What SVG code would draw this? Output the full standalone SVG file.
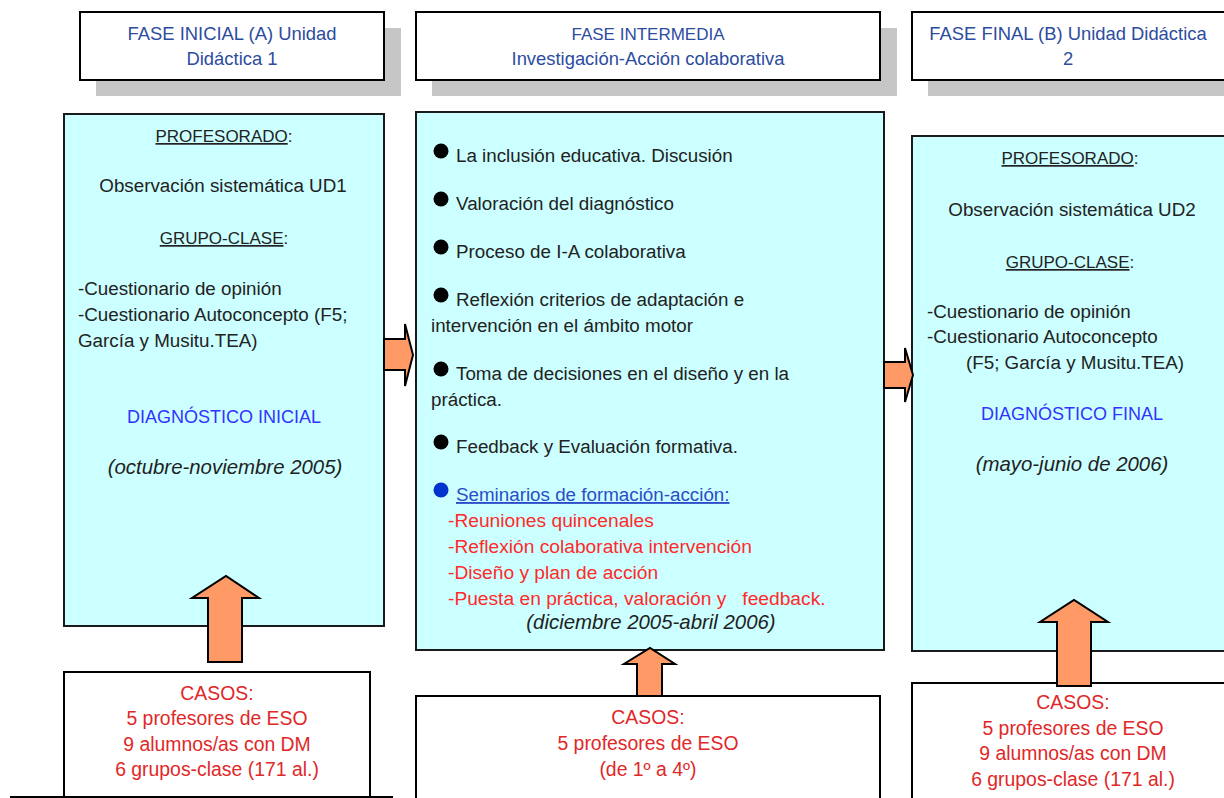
<svg xmlns="http://www.w3.org/2000/svg" width="1224" height="798" viewBox="0 0 1224 798">
<style>
text{font-family:"Liberation Sans",Arial,sans-serif;font-size:18.8px;fill:#222}
.hd{fill:#2c4ca0;text-anchor:middle;font-size:18.4px}
.up{font-size:17px}
.c{text-anchor:middle}
.dg{fill:#3333ff;text-anchor:middle;font-size:18px}
.it{font-style:italic;text-anchor:middle;font-size:20.4px}
.red{fill:#ff2a2a;font-size:19.2px}
.cs{fill:#e02828;text-anchor:middle;font-size:19.4px}
.box{fill:#ffffff;stroke:#000;stroke-width:2}
.main{fill:#ccffff;stroke:#1a1a1a;stroke-width:2}
.sh{fill:#c6c6c6}
.arr{fill:#ff9966;stroke:#000;stroke-width:2;stroke-linejoin:miter}
</style>
<rect width="1224" height="798" fill="#ffffff"/>
<g id="header-inicial">
<rect class="sh" x="96" y="28" width="305" height="68"/>
<rect class="box" x="80" y="12" width="304" height="68"/>
<text class="hd" x="232" y="40">FASE INICIAL (A) Unidad</text>
<text class="hd" x="232" y="65">Didáctica 1</text>
</g>
<g id="header-intermedia">
<rect class="sh" x="432" y="28" width="465" height="68"/>
<rect class="box" x="416" y="12" width="464" height="68"/>
<text class="hd up" x="648" y="40">FASE INTERMEDIA</text>
<text class="hd" x="648" y="65">Investigación-Acción colaborativa</text>
</g>
<g id="header-final">
<rect class="sh" x="928" y="28" width="300" height="68"/>
<rect class="box" x="912" y="12" width="320" height="68"/>
<text class="hd" x="1068" y="40">FASE FINAL (B) Unidad Didáctica</text>
<text class="hd" x="1068" y="65">2</text>
</g>
<g id="inicial">
<rect class="main" x="64" y="114" width="320" height="512"/>
<text class="c up" x="224" y="142"><tspan text-decoration="underline">PROFESORADO</tspan>:</text>
<text class="c" x="223" y="192">Observación sistemática UD1</text>
<text class="c up" x="224" y="244"><tspan text-decoration="underline">GRUPO-CLASE</tspan>:</text>
<text x="78" y="295">-Cuestionario de opinión</text>
<text x="78" y="321">-Cuestionario Autoconcepto (F5;</text>
<text x="78" y="347">García y Musitu.TEA)</text>
<text class="dg" x="224" y="423">DIAGNÓSTICO INICIAL</text>
<text class="it" x="225" y="474">(octubre-noviembre 2005)</text>
</g>
<g id="intermedia">
<rect class="main" x="416" y="112" width="468" height="538"/>
<g fill="#000">
<circle cx="441" cy="151" r="7.5"/>
<circle cx="441" cy="199" r="7.5"/>
<circle cx="441" cy="247" r="7.5"/>
<circle cx="441" cy="295" r="7.5"/>
<circle cx="441" cy="369" r="7.5"/>
<circle cx="441" cy="442" r="7.5"/>
</g>
<circle cx="441" cy="490" r="7.5" fill="#0033cc"/>
<text x="456" y="162">La inclusión educativa. Discusión</text>
<text x="456" y="210">Valoración del diagnóstico</text>
<text x="456" y="258">Proceso de I-A colaborativa</text>
<text x="456" y="306">Reflexión criterios de adaptación e</text>
<text x="431" y="332">intervención en el ámbito motor</text>
<text x="456" y="380">Toma de decisiones en el diseño y en la</text>
<text x="431" y="406">práctica.</text>
<text x="456" y="453">Feedback y Evaluación formativa.</text>
<text x="456" y="501" style="fill:#2c4cc8" text-decoration="underline">Seminarios de formación-acción:</text>
<text class="red" x="448" y="527">-Reuniones quincenales</text>
<text class="red" x="448" y="553">-Reflexión colaborativa intervención</text>
<text class="red" x="448" y="579">-Diseño y plan de acción</text>
<text class="red" x="448" y="605" xml:space="preserve">-Puesta en práctica, valoración y   feedback.</text>
<text class="it" x="651" y="629">(diciembre 2005-abril 2006)</text>
</g>
<g id="final">
<rect class="main" x="912" y="136" width="320" height="515"/>
<text class="c up" x="1070" y="164"><tspan text-decoration="underline">PROFESORADO</tspan>:</text>
<text class="c" x="1072" y="216">Observación sistemática UD2</text>
<text class="c up" x="1070" y="268"><tspan text-decoration="underline">GRUPO-CLASE</tspan>:</text>
<text x="927" y="318">-Cuestionario de opinión</text>
<text x="927" y="343">-Cuestionario Autoconcepto</text>
<text x="966" y="369">(F5; García y Musitu.TEA)</text>
<text class="dg" x="1072" y="420">DIAGNÓSTICO FINAL</text>
<text class="it" x="1072" y="471">(mayo-junio de 2006)</text>
</g>
<g id="casos-inicial">
<rect class="box" x="64" y="672" width="306" height="140"/>
<text class="cs" x="217" y="700">CASOS:</text>
<text class="cs" x="217" y="725">5 profesores de ESO</text>
<text class="cs" x="217" y="751">9 alumnos/as con DM</text>
<text class="cs" x="217" y="776">6 grupos-clase (171 al.)</text>
</g>
<g id="casos-intermedia">
<rect class="box" x="416" y="696" width="464" height="120"/>
<text class="cs" x="648" y="724">CASOS:</text>
<text class="cs" x="648" y="750">5 profesores de ESO</text>
<text class="cs" x="648" y="776">(de 1º a 4º)</text>
</g>
<g id="casos-final">
<rect class="box" x="912" y="683" width="320" height="130"/>
<text class="cs" x="1073" y="709">CASOS:</text>
<text class="cs" x="1073" y="735">5 profesores de ESO</text>
<text class="cs" x="1073" y="760">9 alumnos/as con DM</text>
<text class="cs" x="1073" y="786">6 grupos-clase (171 al.)</text>
</g>
<g id="connectors">
<line x1="10" y1="797" x2="393" y2="797" stroke="#000" stroke-width="2"/>
<path class="arr" d="M384,339 H405 V324 L413,355 L405,386 V370 H384 Z"/>
<path class="arr" d="M884,362 H905 V348 L913,375 L905,402 V388 H884 Z"/>
<path class="arr" d="M208,662 V598 H192 L226,576 L259,598 H242 V662 Z"/>
<path class="arr" d="M637,696 V664 H624 L650,648 L675,664 H662 V696 Z"/>
<path class="arr" d="M1057,686 V622 H1040 L1074,600 L1108,622 H1091 V686 Z"/>
</g>
</svg>
